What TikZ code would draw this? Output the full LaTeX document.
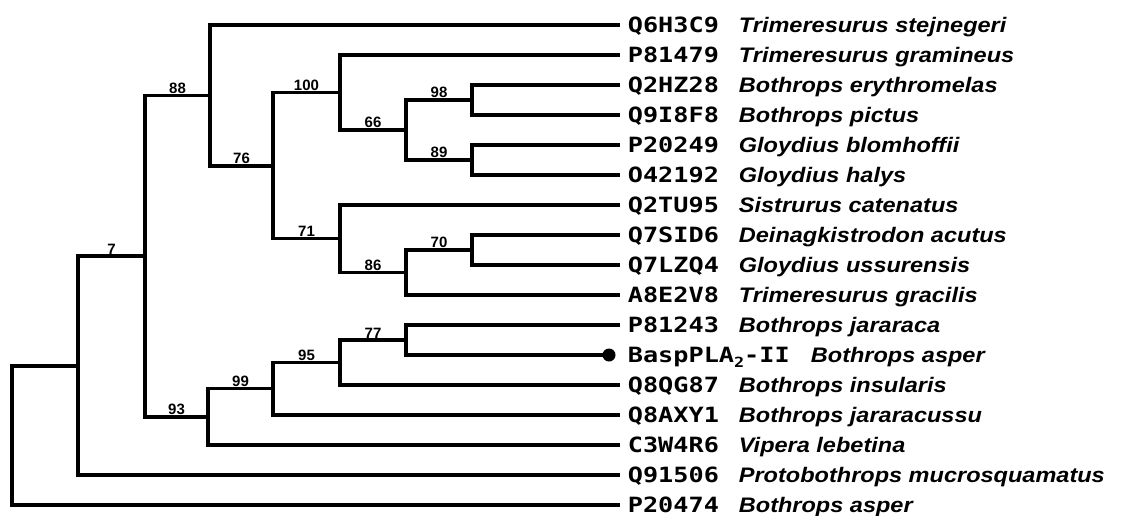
\documentclass[tikz,border=0pt]{standalone}
\usepackage{fontspec}
\setmainfont{Liberation Sans}
\newfontfamily\accfont[FakeStretch=1.2]{DejaVu Sans Mono}
\newfontfamily\sppfont[FakeStretch=1.12]{Liberation Sans}
\newcommand\accsz{\fontsize{21}{21}\selectfont}
\newcommand\acc[1]{\makebox[111pt][l]{\accfont\bfseries\accsz #1}}
\newcommand\spp[1]{{\sppfont\bfseries\itshape\accsz #1}}
\begin{document}
\begin{tikzpicture}[x=1pt,y=-1pt,line width=3.8pt,line cap=rect,line join=miter,
  leaf/.style={anchor=west,inner xsep=8pt,inner ysep=0pt,text height=15pt,text depth=0pt},
  bs/.style={pos=0.75,above,inner sep=0pt,font=\bfseries\fontsize{15}{15}\selectfont},
  tipdot/.style={circle,fill,inner sep=0pt,minimum size=13pt}]
\useasboundingbox (0,0) rectangle (1145,516);
% internal nodes
\coordinate (R) at (12,366);
\coordinate (A) at (78,366);
\coordinate (B) at (145,256);
\coordinate (C) at (210,95.5);
\coordinate (E) at (273,166);
\coordinate (F) at (340,92.5);
\coordinate (H) at (406,130);
\coordinate (I) at (472,100);
\coordinate (J) at (472,160);
\coordinate (G) at (340,238.5);
\coordinate (K) at (406,272.5);
\coordinate (L) at (472,250);
\coordinate (D) at (208,417);
\coordinate (M) at (273,388.5);
\coordinate (N) at (340,362.5);
\coordinate (O) at (406,340);
% leaves
\node[leaf] (l1) at (618,25) {\acc{Q6H3C9}\spp{Trimeresurus stejnegeri}};
\node[leaf] (l2) at (618,55) {\acc{P81479}\spp{Trimeresurus gramineus}};
\node[leaf] (l3) at (618,85) {\acc{Q2HZ28}\spp{Bothrops erythromelas}};
\node[leaf] (l4) at (618,115) {\acc{Q9I8F8}\spp{Bothrops pictus}};
\node[leaf] (l5) at (618,145) {\acc{P20249}\spp{Gloydius blomhoffii}};
\node[leaf] (l6) at (618,175) {\acc{O42192}\spp{Gloydius halys}};
\node[leaf] (l7) at (618,205) {\acc{Q2TU95}\spp{Sistrurus catenatus}};
\node[leaf] (l8) at (618,235) {\acc{Q7SID6}\spp{Deinagkistrodon acutus}};
\node[leaf] (l9) at (618,265) {\acc{Q7LZQ4}\spp{Gloydius ussurensis}};
\node[leaf] (l10) at (618,295) {\acc{A8E2V8}\spp{Trimeresurus gracilis}};
\node[leaf] (l11) at (618,325) {\acc{P81243}\spp{Bothrops jararaca}};
\node[tipdot] (dot) at (609,355) {};
\node[leaf] (l12) at (618,355) {\makebox[183pt][l]{\accfont\bfseries\accsz BaspPLA\raisebox{-5pt}{\fontsize{14}{14}\selectfont 2}-II}\spp{Bothrops asper}};
\node[leaf] (l13) at (618,385) {\acc{Q8QG87}\spp{Bothrops insularis}};
\node[leaf] (l14) at (618,415) {\acc{Q8AXY1}\spp{Bothrops jararacussu}};
\node[leaf] (l15) at (618,445) {\acc{C3W4R6}\spp{Vipera lebetina}};
\node[leaf] (l16) at (618,475) {\acc{Q91506}\spp{Protobothrops mucrosquamatus}};
\node[leaf] (l17) at (618,505) {\acc{P20474}\spp{Bothrops asper}};
% branches
\draw (R) |- (A);
\draw (R) |- (l17);
\draw (A) |- node[bs]{7} (B);
\draw (A) |- (l16);
\draw (B) |- node[bs]{88} (C);
\draw (B) |- node[bs]{93} (D);
\draw (C) |- (l1);
\draw (C) |- node[bs]{76} (E);
\draw (E) |- node[bs]{100} (F);
\draw (E) |- node[bs]{71} (G);
\draw (F) |- (l2);
\draw (F) |- node[bs]{66} (H);
\draw (H) |- node[bs]{98} (I);
\draw (H) |- node[bs]{89} (J);
\draw (I) |- (l3);
\draw (I) |- (l4);
\draw (J) |- (l5);
\draw (J) |- (l6);
\draw (G) |- (l7);
\draw (G) |- node[bs]{86} (K);
\draw (K) |- node[bs]{70} (L);
\draw (K) |- (l10);
\draw (L) |- (l8);
\draw (L) |- (l9);
\draw (D) |- node[bs]{99} (M);
\draw (D) |- (l15);
\draw (M) |- node[bs]{95} (N);
\draw (M) |- (l14);
\draw (N) |- node[bs]{77} (O);
\draw (N) |- (l13);
\draw (O) |- (l11);
\draw (O) |- (dot);
\end{tikzpicture}
\end{document}
